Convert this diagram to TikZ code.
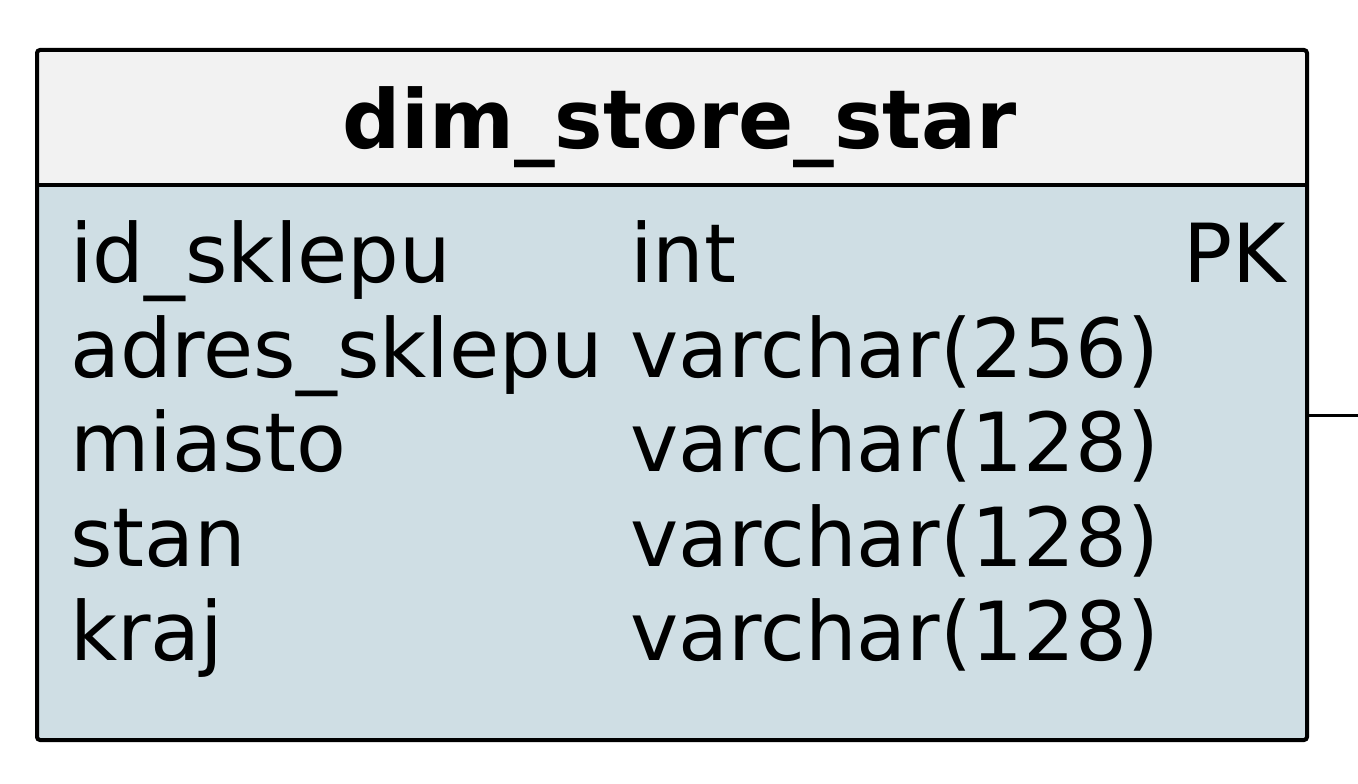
\documentclass[tikz,border=0pt]{standalone}
\usepackage{fontspec}
\setmainfont{DejaVu Sans}
\begin{document}
\begin{tikzpicture}[x=1pt,y=-1pt,
  txt/.style={inner sep=0pt,font=\fontsize{81.5}{95}\selectfont},
  ttl/.style={inner sep=0pt,font=\fontsize{81.5}{95}\selectfont\bfseries},
  frame/.style={draw=black,line width=4pt,rounded corners=3pt}]
\definecolor{hdr}{RGB}{242,242,242}
\definecolor{bodyc}{RGB}{207,222,228}
\useasboundingbox (0,0) rectangle (1358,784);
\fill[white] (0,0) rectangle (1358,784);
\fill[hdr, rounded corners=3pt] (37,50) rectangle (1307,185);
\fill[bodyc, rounded corners=3pt] (37,185) rectangle (1307,740);
\draw[frame] (37,50) rectangle (1307,740);
\draw[line width=4pt] (37,185) -- (1307,185);
\coordinate (e) at (1358,415);
\coordinate (b) at (1307,415);
\draw[line width=3pt] (b) -- (e);
\node[ttl,anchor=base] (title) at (680,148) {dim\_store\_star};
\node[txt,anchor=base west] (n1) at (70,282) {id\_sklepu};
\node[txt,anchor=base west] (n2) at (70,377) {adres\_sklepu};
\node[txt,anchor=base west] (n3) at (70,471) {miasto};
\node[txt,anchor=base west] (n4) at (70,566) {stan};
\node[txt,anchor=base west] (n5) at (70,660) {kraj};
\node[txt,anchor=base west] (t1) at (630,282) {int};
\node[txt,anchor=base west] (t2) at (630,377) {varchar(256)};
\node[txt,anchor=base west] (t3) at (630,471) {varchar(128)};
\node[txt,anchor=base west] (t4) at (630,566) {varchar(128)};
\node[txt,anchor=base west] (t5) at (630,660) {varchar(128)};
\node[txt,anchor=base east] (pk) at (1286,282) {PK};
\end{tikzpicture}
\end{document}
